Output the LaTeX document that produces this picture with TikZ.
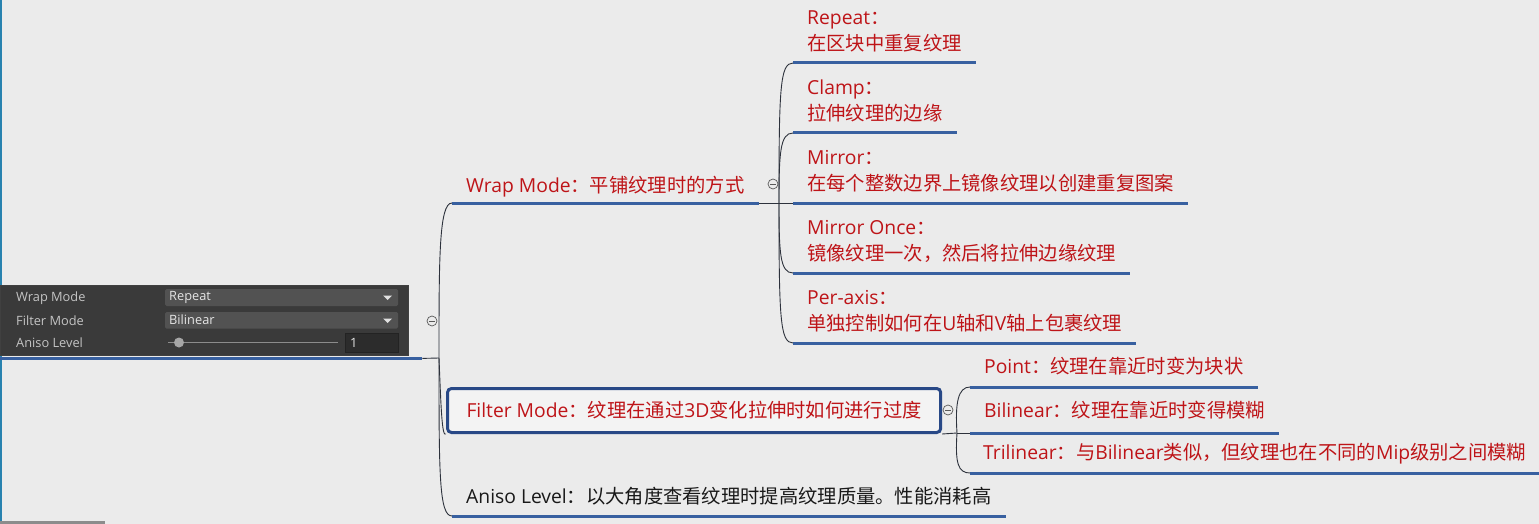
\documentclass[tikz,border=0pt]{standalone}
\usepackage{fontspec}
\setmainfont{Open Sans}
\newfontfamily\cjk{Noto Sans CJK SC}
\definecolor{bg}{HTML}{EBEBEB}
\definecolor{redtxt}{RGB}{190,20,24}
\definecolor{blueline}{RGB}{56,96,160}
\definecolor{boxblue}{RGB}{40,72,134}
\definecolor{connc}{RGB}{45,50,60}
\definecolor{panelbg}{HTML}{3A3A3A}
\definecolor{fieldbg}{HTML}{525252}
\definecolor{numbg}{HTML}{2C2C2C}
\definecolor{plabelc}{HTML}{C4C4C4}
\definecolor{edgeblue}{RGB}{40,130,175}
\newcommand\twol[2]{\begin{tabular}[b]{@{}l@{}}#1\\#2\end{tabular}}
\tikzset{
  bigfont/.style={font=\fontsize{19.3}{26}\selectfont},
  leaf/.style={bigfont, anchor=south west, inner xsep=14pt, inner ysep=0pt, text depth=12pt, text=redtxt},
  underl/.style={draw=blueline, line width=3pt},
  conn/.style={draw=connc, line width=0.9pt},
  collapse/.style={circle, draw=black!65, fill=bg, line width=0.7pt, minimum size=10pt, inner sep=0pt,
    path picture={\draw[black!65, line width=0.7pt] ([xshift=-2.6pt]path picture bounding box.center) -- ([xshift=2.6pt]path picture bounding box.center);}},
  plabel/.style={anchor=west, inner sep=0pt, text=plabelc, font=\fontsize{12.8}{14}\selectfont},
  pval/.style={anchor=west, inner sep=0pt, text=black!10, font=\fontsize{12.8}{14}\selectfont},
}
\begin{document}
\begin{tikzpicture}[x=1pt,y=-1pt]
\useasboundingbox (0,0) rectangle (1539,524);
\fill[bg] (0,0) rectangle (1539,524);
\fill[edgeblue] (0,0) rectangle (1.6,524);
\fill[black!45] (0,520.5) rectangle (105,524);

% ---- root: Unity inspector panel ----
\node[minimum width=422pt, minimum height=72pt, inner sep=0pt, anchor=north west] (root) at (0,286) {};
\fill[panelbg] (0,285.5) rectangle (408,355);
\draw[black!75, line width=0.8pt] (0,285.5) rectangle (408,355);
\node[plabel] (l1) at (16,298) {Wrap Mode};
\node[plabel] (l2) at (16,320.5) {Filter Mode};
\node[plabel] (l3) at (16,342.5) {Aniso Level};
\fill[fieldbg, rounded corners=1.5pt] (165,289) rectangle (398,306);
\node[pval] (v1) at (169,297.5) {Repeat};
\fill[black!12] (383,295.5) -- (392,295.5) -- (387.5,300) -- cycle;
\fill[fieldbg, rounded corners=1.5pt] (165,312) rectangle (398,328.5);
\node[pval] (v2) at (169,320) {Bilinear};
\fill[black!12] (383,318.5) -- (392,318.5) -- (387.5,323) -- cycle;
\draw[black!45, line width=1.5pt] (168,342.5) -- (338,342.5);
\fill[black!35] (179,342.5) circle (5);
\fill[numbg] (345,333) rectangle (398,352);
\draw[black!20!numbg, line width=0.6pt] (345,333) rectangle (398,352);
\node[pval] (v3) at (350,342.5) {1};
\draw[underl] (root.south west) -- (root.south east);
\coordinate (rootj) at (439,358);
\draw[conn] (root.south east) -- (rootj);

% ---- level 1 ----
\node[leaf, text depth=10pt] (wrap) at (452,203) {Wrap Mode{\cjk ：平铺纹理时的方式}};
\node[bigfont, draw=boxblue, line width=3pt, rounded corners=4pt, fill=bg!60!white, anchor=west,
  minimum height=44pt, inner xsep=19pt, inner ysep=0pt, text=redtxt] (filter) at (446,410.5)
  {Filter Mode{\cjk ：纹理在通过}3D{\cjk 变化拉伸时如何进行过度}};
\node[leaf, text=black!90] (aniso) at (452,516) {Aniso Level{\cjk ：以大角度查看纹理时提高纹理质量。性能消耗高}};
\draw[underl] (wrap.south west) -- (wrap.south east);
\draw[underl] (aniso.south west) -- (aniso.south east);

\draw[conn] (rootj) .. controls +(0,-100) and +(-13,0) .. (wrap.south west);
\draw[conn] (rootj) .. controls +(2,50) and +(-4,4) .. (filter.south west);
\draw[conn] (rootj) .. controls +(0,115) and +(-13,0) .. (aniso.south west);

% ---- Wrap Mode children ----
\node[leaf] (repeat) at (793,63) {\twol{Repeat{\cjk ：}}{\cjk 在区块中重复纹理}};
\node[leaf] (clamp) at (793,133) {\twol{Clamp{\cjk ：}}{\cjk 拉伸纹理的边缘}};
\node[leaf] (mirror) at (793,203) {\twol{Mirror{\cjk ：}}{\cjk 在每个整数边界上镜像纹理以创建重复图案}};
\node[leaf] (mirroronce) at (793,273) {\twol{Mirror Once{\cjk ：}}{\cjk 镜像纹理一次，然后将拉伸边缘纹理}};
\node[leaf] (peraxis) at (793,343) {\twol{Per-axis{\cjk ：}}{{\cjk 单独控制如何在}U{\cjk 轴和}V{\cjk 轴上包裹纹理}}};
\foreach \n in {repeat,clamp,mirror,mirroronce,peraxis}
  \draw[underl] (\n.south west) -- (\n.south east);
\coordinate (wrapj) at (779,203);
\draw[conn] (wrap.south east) -- (wrapj);
\draw[conn] (wrapj) .. controls +(0,-115) and +(-13,0) .. (repeat.south west);
\draw[conn] (wrapj) .. controls +(0,-50) and +(-13,0) .. (clamp.south west);
\draw[conn] (wrapj) -- (mirror.south west);
\draw[conn] (wrapj) .. controls +(0,50) and +(-13,0) .. (mirroronce.south west);
\draw[conn] (wrapj) .. controls +(0,115) and +(-13,0) .. (peraxis.south west);

% ---- Filter Mode children ----
\node[leaf, text depth=13pt] (point) at (970,387) {Point{\cjk ：纹理在靠近时变为块状}};
\node[leaf, text depth=15pt] (bilinear) at (970,433) {Bilinear{\cjk ：纹理在靠近时变得模糊}};
\node[leaf, text depth=13pt, inner xsep=13pt] (trilinear) at (970,473) {Trilinear{\cjk ：与}Bilinear{\cjk 类似，但纹理也在不同的}Mip{\cjk 级别之间模糊}};
\foreach \n in {point,bilinear,trilinear}
  \draw[underl] (\n.south west) -- (\n.south east);
\coordinate (filtj) at (957,433);
\draw[conn] (filter.south east) -- (filtj);
\draw[conn] (filtj) .. controls +(-2,-30) and +(-12,0) .. (point.south west);
\draw[conn] (filtj) -- (bilinear.south west);
\draw[conn] (filtj) .. controls +(-2,30) and +(-12,0) .. (trilinear.south west);

% ---- collapse markers ----
\node[collapse] (rootc) at (432,321) {};
\node[collapse] (wrapc) at (773,184) {};
\node[collapse] (filterc) at (948,410) {};
\end{tikzpicture}
\end{document}
